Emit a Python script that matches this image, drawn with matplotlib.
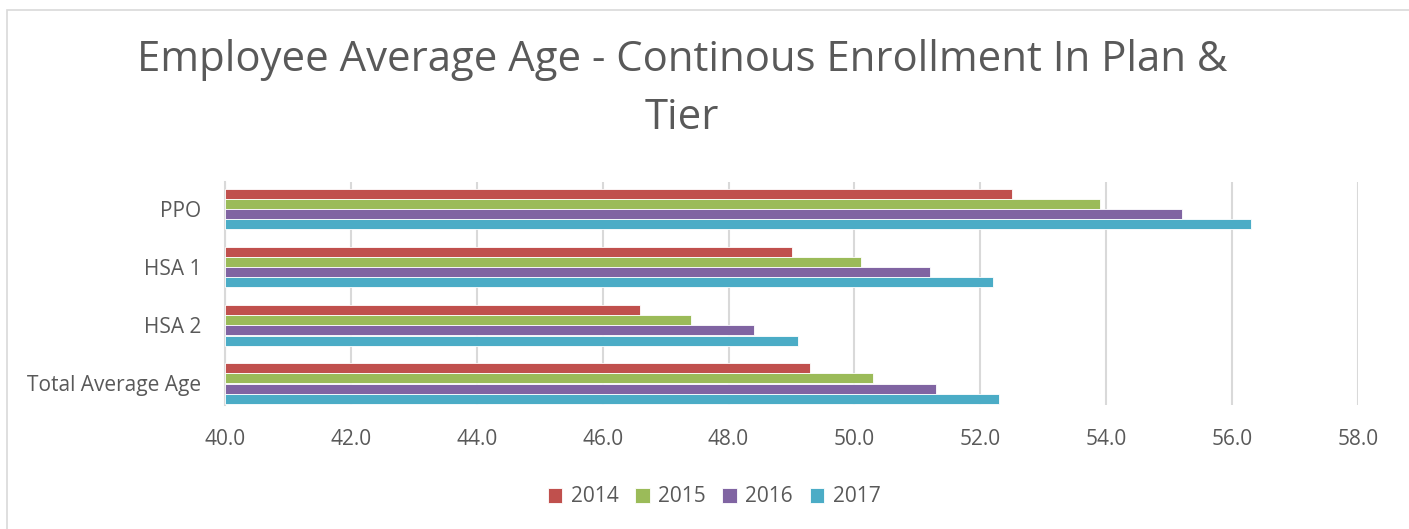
import matplotlib
matplotlib.use("Agg")
import matplotlib.pyplot as plt
import numpy as np
from matplotlib.patches import Rectangle

categories = ["PPO", "HSA 1", "HSA 2", "Total Average Age"]
years = ["2014", "2015", "2016", "2017"]
v2014 = [52.5, 49.0, 46.6, 49.3]
v2015 = [53.9, 50.1, 47.4, 50.3]
v2016 = [55.2, 51.2, 48.4, 51.3]
v2017 = [56.3, 52.2, 49.1, 52.3]
series = [v2014, v2015, v2016, v2017]
colors = ["#C0504D", "#9BBB59", "#8064A2", "#4BACC6"]
xticks = [40, 42, 44, 46, 48, 50, 52, 54, 56, 58]

plt.rcParams['font.family'] = ['Open Sans', 'DejaVu Sans']
TXT = "#595959"

W, H = 1409, 529
fig = plt.figure(figsize=(W/100, H/100), dpi=100)
fig.patches.append(Rectangle((7/W, -1), 2, 2 - 10/H, transform=fig.transFigure,
                             fill=False, edgecolor="#D9D9D9", linewidth=1.2))

ax = fig.add_axes([225/W, 1 - 405/H, (1358-225)/W, (405-182)/H])
y = np.arange(len(categories))
bh = 10/58
offsets = (np.arange(4) - 1.5) * bh
for i, (vals, c, yr) in enumerate(zip(series, colors, years)):
    ax.barh(y + offsets[i], np.array(vals) - 40, left=40, height=bh, color=c,
            edgecolor="white", linewidth=0.6, label=yr, zorder=3)

ax.set_xlim(40, 58)
ax.set_ylim(3 + 21.5/58, -27.5/58)
ax.set_xticks(xticks)
ax.set_xticklabels([f"{t:.1f}" for t in xticks], color=TXT, fontsize=15)
ax.set_yticks(y)
ax.set_yticklabels(categories, color=TXT, fontsize=15)
ax.tick_params(length=0, pad=17, axis='y')
ax.tick_params(length=0, pad=17, axis='x')
ax.grid(axis='x', color="#D9D9D9", linewidth=1.5, zorder=0)
for s in ["top", "right", "bottom"]:
    ax.spines[s].set_visible(False)
ax.spines["left"].set_color("#D9D9D9")
ax.spines["left"].set_linewidth(1.5)

fig.text(682/W, 1 - 60/H, "Employee Average Age - Continous Enrollment In Plan &",
         ha="center", va="center", fontsize=30.2, color=TXT)
fig.text(682/W, 1 - 118/H, "Tier", ha="center", va="center", fontsize=30.2, color=TXT)

leg = fig.legend(loc="center", bbox_to_anchor=(714/W, 1 - 497/H), ncol=4,
                 frameon=False, fontsize=15, handlelength=0.7, handleheight=0.7,
                 columnspacing=0.8, handletextpad=0.4)
for t in leg.get_texts():
    t.set_color(TXT)

fig.savefig("out.png", dpi=100)
